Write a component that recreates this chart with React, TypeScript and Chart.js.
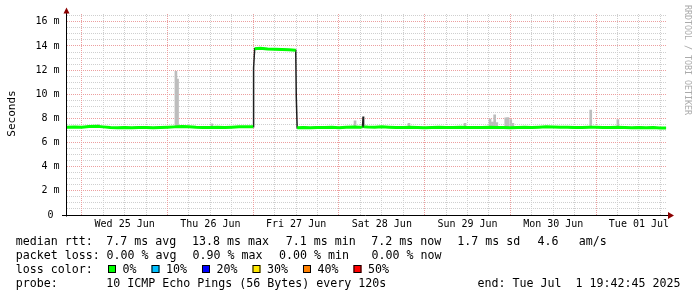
import { useEffect, useRef } from "react";
import { Chart, registerables } from "chart.js";

Chart.register(...registerables);

// time axis: hours since Tue 24 Jun 2025 00:00
const START_HOUR = 19.7125; // Tue 24 Jun 19:42:45
const END_HOUR = 187.7125; // Tue 01 Jul 19:42:45
const Y_MAX = 16.65;

const dayMidnights = [24, 48, 72, 96, 120, 144, 168];
const dayLabels = ["Wed 25 Jun", "Thu 26 Jun", "Fri 27 Jun", "Sat 28 Jun", "Sun 29 Jun", "Mon 30 Jun", "Tue 01 Jul"];
const yMajorTicks = [0, 2, 4, 6, 8, 10, 12, 14, 16];
const yTickLabels = ["0 ", "2 m", "4 m", "6 m", "8 m", "10 m", "12 m", "14 m", "16 m"];

// median RTT (ms)
const medianHours = [
  19.8, 22, 24, 26, 28, 30, 32, 34, 36, 38, 40, 42, 44, 46, 48, 50, 52, 54, 56, 58, 60, 62, 64, 66, 68, 70,
  72.0, 72.1, 72.4, 74, 76, 78, 80, 82, 83.9, 84.05, 84.3,
  86, 88, 90, 92, 94, 96, 98, 100, 102, 102.6, 102.75, 102.9, 104, 106, 108, 110, 112, 114, 116, 118, 120,
  122, 124, 126, 128, 130, 132, 134, 136, 138, 140, 142, 144, 146, 148, 150, 152, 154, 156, 158, 160,
  162, 164, 166, 168, 170, 172, 174, 176, 178, 180, 182, 184, 186, 187.6,
];
const medianMs = [
  7.27, 7.28, 7.26, 7.33, 7.36, 7.3, 7.24, 7.22, 7.24, 7.23, 7.25, 7.24, 7.23, 7.25, 7.27, 7.3, 7.33, 7.31, 7.27, 7.25, 7.24, 7.26, 7.24, 7.27, 7.31, 7.3,
  7.3, 12.2, 13.78, 13.82, 13.75, 13.72, 13.7, 13.68, 13.65, 9.8, 7.22,
  7.24, 7.23, 7.25, 7.24, 7.26, 7.23, 7.27, 7.28, 7.26, 7.3, 8.15, 7.3, 7.28, 7.26, 7.3, 7.27, 7.25, 7.24, 7.26, 7.25, 7.23,
  7.25, 7.27, 7.25, 7.24, 7.26, 7.25, 7.24, 7.25, 7.27, 7.24, 7.25, 7.23, 7.24, 7.26, 7.25, 7.27, 7.3, 7.28, 7.26, 7.27,
  7.25, 7.24, 7.27, 7.26, 7.25, 7.24, 7.26, 7.25, 7.23, 7.24, 7.22, 7.24, 7.21, 7.2,
];

// smoke (spread of the 10 pings), ms
const smokeHours = [28.6, 50.35, 50.8, 60.4, 100.5, 115.6, 131.3, 138.3, 138.8, 139.4, 139.6, 140.2, 142.7, 143.3, 144.1, 144.7, 166.5, 174.1];
const smokeLowMs = [7.3, 7.35, 7.35, 7.3, 7.3, 7.3, 7.3, 7.3, 7.3, 7.3, 7.3, 7.3, 7.3, 7.3, 7.3, 7.3, 7.3, 7.3];
const smokeHighMs = [7.5, 11.9, 11.25, 7.55, 7.8, 7.6, 7.6, 7.95, 7.7, 7.7, 8.3, 7.65, 8.05, 8.07, 7.9, 7.6, 8.7, 7.9];

const lossLabels = ["0%", "10%", "20%", "30%", "40%", "50%"];
const lossColors = ["#00ff00", "#00c0ff", "#0000ff", "#ffe800", "#ff8000", "#ff0000"];

const rttTexts = ["median rtt:", "7.7 ms avg", "13.8 ms max", "7.1 ms min", "7.2 ms now", "1.7 ms sd", "4.6", "am/s"];
const rttX = [15.7, 106.3, 192, 285.8, 371.3, 457.3, 537.5, 578.8];
const lossTexts = ["packet loss:", "0.00 % avg", "0.90 % max", "0.00 % min", "0.00 % now"];
const lossX = [15.7, 106.5, 192.5, 279, 371.5];
const probeTexts = ["probe:", "10 ICMP Echo Pings (56 Bytes) every 120s", "end: Tue Jul  1 19:42:45 2025"];
const probeX = [15.7, 106.3, 477.6];

const MAJOR_GRID = "#ec9f9f";
const MINOR_GRID = "#cfcfcf";
const MONO = '"DejaVu Sans Mono"';

const xGridHours: number[] = [];
for (let h = dayMidnights[0] - 6; h < END_HOUR; h += 6) if (h > START_HOUR) xGridHours.push(h);
const yGridValues: number[] = [];
for (let v = 0; v <= Y_MAX; v += 0.5) yGridValues.push(v);

const isMidnight = (v: number) => dayMidnights.some((m) => Math.abs(m - v) < 1e-6);
const isMajorY = (v: number) => yMajorTicks.some((m) => Math.abs(m - v) < 1e-6);

// dotted rrdtool-like grid, positioned through the chart scales
const dottedGrid = {
  id: "dottedGrid",
  beforeDatasetsDraw(chart: any) {
    const { ctx, chartArea: a, scales } = chart;
    const top = Math.round(a.top);
    const bottom = Math.round(a.bottom);
    const left = Math.round(a.left);
    const right = Math.round(a.right);
    ctx.save();
    // minor first, major on top
    [false, true].forEach((major) => {
      ctx.fillStyle = major ? MAJOR_GRID : MINOR_GRID;
      xGridHours.forEach((h) => {
        if (isMidnight(h) !== major) return;
        const px = Math.floor(scales.x.getPixelForValue(h));
        for (let y = top; y < bottom; y += 2) ctx.fillRect(px, y, 1, 1);
      });
      yGridValues.forEach((v) => {
        if (v === 0 || isMajorY(v) !== major) return;
        const py = Math.floor(scales.y.getPixelForValue(v));
        for (let x = left; x < right; x += 2) ctx.fillRect(x, py, 1, 1);
      });
    });
    ctx.restore();
  },
};

const decor = {
  id: "decor",
  afterDatasetsDraw(chart: any) {
    const { ctx, chartArea: a } = chart;
    const ax = Math.floor(a.left) + 0.5;
    const ay = Math.floor(a.bottom) + 0.5;
    ctx.save();
    // axes
    ctx.strokeStyle = "#000";
    ctx.lineWidth = 1;
    ctx.beginPath();
    ctx.moveTo(62, ay);
    ctx.lineTo(669, ay);
    ctx.moveTo(ax, ay + 1);
    ctx.lineTo(ax, 10);
    ctx.stroke();
    ctx.fillStyle = "#8b0000";
    ctx.beginPath();
    ctx.moveTo(ax - 3, 13.5);
    ctx.lineTo(ax + 3, 13.5);
    ctx.lineTo(ax, 7.5);
    ctx.closePath();
    ctx.fill();
    ctx.beginPath();
    ctx.moveTo(668, ay - 3.5);
    ctx.lineTo(668, ay + 3.5);
    ctx.lineTo(674, ay);
    ctx.closePath();
    ctx.fill();

    // y title
    ctx.fillStyle = "#000";
    ctx.font = `11px ${MONO}`;
    ctx.textAlign = "center";
    ctx.textBaseline = "alphabetic";
    ctx.save();
    ctx.translate(15, 113.5);
    ctx.rotate(-Math.PI / 2);
    ctx.fillText("Seconds", 0, 0);
    ctx.restore();

    // watermark
    ctx.save();
    ctx.fillStyle = "#aaaaaa";
    ctx.font = `8.3px ${MONO}`;
    ctx.textAlign = "left";
    ctx.translate(684.5, 5);
    ctx.rotate(Math.PI / 2);
    ctx.fillText("RRDTOOL / TOBI OETIKER", 0, 0);
    ctx.restore();

    // legend
    ctx.fillStyle = "#000";
    ctx.font = `11.63px ${MONO}`;
    ctx.textAlign = "left";
    rttTexts.forEach((t, i) => ctx.fillText(t, rttX[i], 245));
    lossTexts.forEach((t, i) => ctx.fillText(t, lossX[i], 259));
    ctx.fillText("loss color:", 15.7, 273);
    let x = 108;
    lossLabels.forEach((t, i) => {
      ctx.fillStyle = lossColors[i];
      ctx.fillRect(x, 265, 8, 8);
      ctx.strokeStyle = "#000";
      ctx.strokeRect(x + 0.5, 265.5, 7, 7);
      ctx.fillStyle = "#000";
      ctx.fillText(t, x + 14.5, 273);
      x += 15 + ctx.measureText(t).width + 14.5;
    });
    probeTexts.forEach((t, i) => ctx.fillText(t, probeX[i], 287));
    ctx.restore();
  },
};

export default function App() {
  const ref = useRef<HTMLCanvasElement | null>(null);
  useEffect(() => {
    document.body.style.margin = "0";
    if (!ref.current) return;
    const median = medianHours.map((h, i) => ({ x: h, y: medianMs[i] }));
    const smoke = smokeHours.map((h, i) => ({ x: h, y: [smokeLowMs[i], smokeHighMs[i]] }));
    const chart = new Chart(ref.current, {
      type: "line",
      data: {
        datasets: [
          {
            type: "line",
            data: median,
            borderColor: "#00ff00",
            borderWidth: 3,
            pointRadius: 0,
            tension: 0,
            borderCapStyle: "butt",
            order: 1,
            segment: {
              borderColor: (c: any) => (Math.abs(c.p1.parsed.y - c.p0.parsed.y) > 0.5 ? "rgba(0,0,0,0)" : undefined),
            },
          } as any,
          {
            type: "line",
            data: median,
            borderColor: "#1e1e1e",
            borderWidth: 1.5,
            pointRadius: 0,
            tension: 0,
            order: 2,
          },
          {
            type: "bar",
            data: smoke as any,
            backgroundColor: "#bdbdbd",
            borderWidth: 0,
            barThickness: 2,
            grouped: false,
            order: 3,
          } as any,
        ],
      },
      options: {
        responsive: false,
        animation: false,
        events: [],
        layout: { padding: { top: 14, right: 30.5, left: 0, bottom: 0 } },
        plugins: { legend: { display: false }, tooltip: { enabled: false }, title: { display: false } },
        scales: {
          x: {
            type: "linear",
            min: START_HOUR,
            max: END_HOUR,
            bounds: "data",
            offset: false,
            afterBuildTicks: (s: any) => {
              s.ticks = xGridHours.map((v) => ({ value: v }));
            },
            afterFit: (s: any) => {
              s.height = 82;
            },
            grid: { display: false, drawTicks: false, offset: false },
            border: { display: false },
            ticks: {
              autoSkip: false,
              maxRotation: 0,
              padding: 3,
              color: "#000",
              font: { family: "DejaVu Sans Mono", size: 10 },
              callback: (v: any) => {
                const idx = dayMidnights.findIndex((m) => Math.abs(m + 12 - v) < 1e-6);
                return idx >= 0 ? dayLabels[idx] : "";
              },
            },
          },
          y: {
            type: "linear",
            min: 0,
            max: Y_MAX,
            bounds: "data",
            afterBuildTicks: (s: any) => {
              s.ticks = yGridValues.map((v) => ({ value: v }));
            },
            afterFit: (s: any) => {
              s.width = 66.5;
            },
            grid: { display: false, drawTicks: false },
            border: { display: false },
            ticks: {
              autoSkip: false,
              padding: 7,
              color: "#000",
              font: { family: "DejaVu Sans Mono", size: 10 },
              callback: (v: any) => {
                const idx = yMajorTicks.findIndex((m) => Math.abs(m - v) < 1e-6);
                return idx >= 0 ? yTickLabels[idx] : "";
              },
            },
          },
        },
      },
      plugins: [dottedGrid, decor],
    });
    return () => chart.destroy();
  }, []);
  return <canvas ref={ref} width={697} height={297} style={{ display: "block" }} />;
}
